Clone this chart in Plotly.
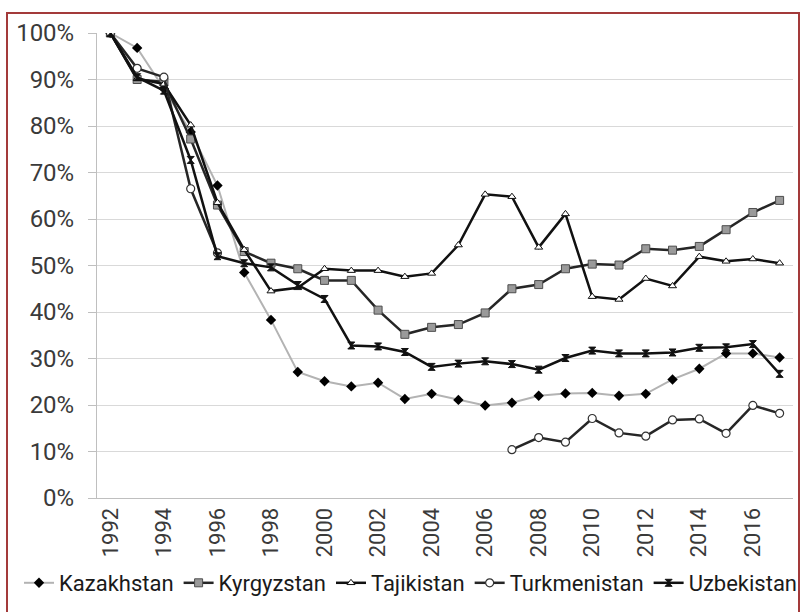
import plotly.graph_objects as go

# ── Data (share of 1992 level) ───────────────────────────────────────────────

years = list(range(1992, 2018))

kazakhstan = [1.000, 0.968, 0.880, 0.787, 0.672, 0.485, 0.383, 0.271, 0.251, 0.240, 0.248,
              0.213, 0.224, 0.211, 0.199, 0.205, 0.220, 0.225, 0.226, 0.220, 0.224,
              0.255, 0.278, 0.311, 0.311, 0.302]
kyrgyzstan = [1.000, 0.900, 0.895, 0.772, 0.630, 0.530, 0.505, 0.493, 0.468, 0.468, 0.404,
              0.352, 0.367, 0.373, 0.398, 0.450, 0.459, 0.493, 0.503, 0.501, 0.536,
              0.533, 0.541, 0.577, 0.614, 0.640]
tajikistan = [1.000, 0.902, 0.890, 0.802, 0.635, 0.534, 0.445, 0.452, 0.493, 0.489, 0.489,
              0.476, 0.483, 0.544, 0.653, 0.648, 0.539, 0.611, 0.433, 0.427, 0.472,
              0.456, 0.519, 0.509, 0.514, 0.505]
turkmenistan = [1.000, 0.924, 0.905, 0.665, 0.527, None, None, None, None, None, None,
                None, None, None, None, 0.104, 0.130, 0.120, 0.171, 0.140, 0.133,
                0.168, 0.170, 0.139, 0.199, 0.182]
uzbekistan = [1.000, 0.905, 0.876, 0.727, 0.520, 0.505, 0.496, 0.458, 0.428, 0.328, 0.326,
              0.314, 0.282, 0.289, 0.294, 0.288, 0.276, 0.301, 0.317, 0.311, 0.311,
              0.313, 0.323, 0.324, 0.331, 0.267]

tick_years = list(range(1992, 2017, 2))

# ── Styles ────────────────────────────────────────────────────────────────────

_FONT = "Roboto, sans-serif"
_TEXT = "#3a3a3a"
_DARK = "#262626"
_GRID = "#d9d9d9"

# plot area in pixels
L, R, T, B = 97, 793, 33, 498
W, H = 806, 612


def px_x(v):
    return (v - L) / (R - L)


def px_y(v):
    return (B - v) / (B - T)


series = [
    ("Kazakhstan", kazakhstan, dict(color="#b3b3b3", width=2),
     dict(symbol="diamond", size=8, color="#000000", line=dict(width=0))),
    ("Kyrgyzstan", kyrgyzstan, dict(color=_DARK, width=2.5),
     dict(symbol="square", size=8, color="#9a9a9a", line=dict(color="#4d4d4d", width=1))),
    ("Tajikistan", tajikistan, dict(color="#111111", width=2.5),
     dict(symbol="triangle-up", size=7, color="#ffffff", line=dict(color="#111111", width=1))),
    ("Turkmenistan", turkmenistan, dict(color=_DARK, width=2.5),
     dict(symbol="circle", size=8, color="#ffffff", line=dict(color="#333333", width=1.2))),
    ("Uzbekistan", uzbekistan, dict(color="#111111", width=2.5),
     dict(symbol="hourglass", size=7, color="#111111", line=dict(color="#111111", width=1))),
]

fig = go.Figure()
for name, vals, line, marker in series:
    fig.add_trace(go.Scatter(
        x=years, y=vals, name=name,
        mode="lines+markers",
        line=line, marker=marker,
        connectgaps=False,
    ))

fig.update_layout(
    width=W, height=H,
    paper_bgcolor="white", plot_bgcolor="white",
    margin=dict(l=L, r=W - R, t=T, b=H - B, autoexpand=False),
    font=dict(family=_FONT, color=_TEXT, size=20),
    showlegend=True,
    legend=dict(
        orientation="h", x=px_x(19), xanchor="left",
        y=px_y(583), yanchor="middle",
        font=dict(family=_FONT, size=22, color="#1a1a1a"),
        itemwidth=30, tracegroupgap=0,
        bgcolor="rgba(0,0,0,0)",
    ),
    xaxis=dict(
        range=[1991.5, 2017.5],
        tickmode="array", tickvals=tick_years,
        ticktext=[str(y) for y in tick_years],
        tickangle=-90,
        tickfont=dict(family=_FONT, size=22, color=_TEXT),
        showgrid=False, zeroline=False,
        showline=True, linecolor="#bfbfbf", linewidth=1,
        ticks="", ticklen=0,
    ),
    yaxis=dict(
        range=[0, 1], dtick=0.1, tickformat=".0%",
        tickfont=dict(family=_FONT, size=24, color=_TEXT),
        showgrid=True, gridcolor=_GRID, gridwidth=1,
        zeroline=False,
        showline=True, linecolor="#bfbfbf", linewidth=1,
        ticks="outside", ticklen=8, tickcolor="#bfbfbf",
        ticklabelstandoff=9,
    ),
)

# dark red frame around the whole chart
fig.add_shape(
    type="rect", xref="paper", yref="paper",
    x0=px_x(7), x1=px_x(799), y0=px_y(640), y1=px_y(13),
    line=dict(color="#a33a3a", width=2), fillcolor="rgba(0,0,0,0)",
    layer="below",
)

# drop the page's default body margin so the chart sits at the window origin
fig.write_html(
    "out.html",
    config={"displayModeBar": False},
    post_script="document.body.style.margin='0';",
)
